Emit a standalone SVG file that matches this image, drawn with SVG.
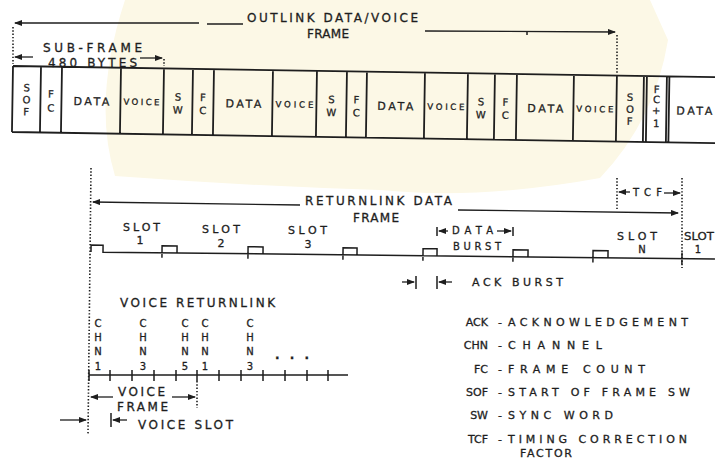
<svg xmlns="http://www.w3.org/2000/svg" width="715" height="463" viewBox="0 0 715 463">
<defs>
<marker id="ah" markerUnits="userSpaceOnUse" markerWidth="8" markerHeight="6" refX="7" refY="3" orient="auto"><path d="M0,0 L8,3 L0,6 z" fill="#1e1e1e"/></marker>
<style>
text{font-family:"DejaVu Sans","Liberation Sans",sans-serif;fill:#1e1e1e;stroke:#1e1e1e;stroke-width:0.3;}
.t12{font-size:12px;}
.t11{font-size:11px;}
.t10{font-size:10px;}
.t9{font-size:8.5px;}
.c{text-anchor:middle;}
.e{text-anchor:end;}
.ln{stroke:#1e1e1e;stroke-width:1.5;fill:none;}
.box{stroke:#1e1e1e;stroke-width:1.8;fill:none;}
.ar{stroke:#1e1e1e;stroke-width:1.3;fill:none;marker-end:url(#ah);}
.dot{stroke:#1e1e1e;stroke-width:1.6;fill:none;stroke-dasharray:1.4 1.9;}
</style>
</defs>
<rect width="715" height="463" fill="#ffffff"/>
<path d="M125,0 H650 L668,40 Q655,120 600,178 Q480,200 380,190 Q250,186 115,176 Q92,100 125,0 Z" fill="#fcf8e6"/>

<g id="outlink-frame" transform="rotate(0.9 13 66)">
<path class="box" d="M13,66 H720 M13,132 H720 M13,66 V132 M41,66 V132 M62,66 V132 M121,66 V132 M164,66 V132 M193,66 V132 M214,66 V132 M273,66 V132 M317,66 V132 M347,66 V132 M367,66 V132 M425,66 V132 M468,66 V132 M495,66 V132 M517,66 V132 M574,66 V132 M617,66 V132 M644,66 V132 M647,66 V132 M667,66 V132 M669.5,66 V132"/>
<g class="t10 c">
<text x="27" y="91">S</text><text x="27" y="103">O</text><text x="27" y="115">F</text>
<text x="51.5" y="97">F</text><text x="51.5" y="111">C</text>
<text x="178.5" y="98">S</text><text x="178.5" y="111">W</text>
<text x="203.5" y="98">F</text><text x="203.5" y="111">C</text>
<text x="332" y="98">S</text><text x="332" y="111">W</text>
<text x="357" y="98">F</text><text x="357" y="111">C</text>
<text x="481.5" y="98">S</text><text x="481.5" y="111">W</text>
<text x="506" y="98">F</text><text x="506" y="111">C</text>
<text x="630.5" y="91">S</text><text x="630.5" y="103">O</text><text x="630.5" y="115">F</text>
<text x="657" y="83">F</text><text x="657" y="93">C</text><text x="657" y="104">+</text><text x="657" y="117">1</text>
</g>
<g class="t11">
<text x="74" y="104" textLength="36" lengthAdjust="spacing">DATA</text>
<text x="226" y="104" textLength="36" lengthAdjust="spacing">DATA</text>
<text x="378" y="104" textLength="36" lengthAdjust="spacing">DATA</text>
<text x="528" y="104" textLength="36" lengthAdjust="spacing">DATA</text>
<text x="677" y="104" textLength="36" lengthAdjust="spacing">DATA</text>
</g>
<g class="t9">
<text x="124" y="103" textLength="36" lengthAdjust="spacing">VOICE</text>
<text x="276" y="103" textLength="38" lengthAdjust="spacing">VOICE</text>
<text x="428" y="103" textLength="37" lengthAdjust="spacing">VOICE</text>
<text x="577" y="103" textLength="37" lengthAdjust="spacing">VOICE</text>
</g>
</g>

<g id="connectors">
<path class="ar" d="M199,23 L15,23"/>
<path class="ln" d="M207,24 H243"/>
<path class="ar" d="M425,31 L615,32"/>
<path class="ln" d="M527,32 V35"/>
<path class="dot" d="M13,27 V64"/>
<path class="dot" d="M617,35 V74"/>
<path class="ar" d="M33,57 L15,57"/>
<path class="ar" d="M140,58 L162,58"/>
<path class="dot" d="M164,59 V66"/>

<path class="dot" d="M91,168 L88,434"/>
<path class="ar" d="M300,205 L93,202"/>
<path class="ar" d="M458,210 L678,213"/>
<path class="dot" d="M617,178 V209"/>
<path class="dot" d="M682,178 V268"/>
<path class="ar" d="M630,192 L619,192"/>
<path class="ar" d="M664,193 L680,193"/>

<path class="ln" d="M437,227 V236 M513,227 V236"/>
<path class="ar" d="M448,231 L439,231"/>
<path class="ar" d="M497,231 L511,231"/>
<path class="ar" d="M402,282 L414,282"/>
<path class="ln" d="M416,276 V289 M437,276 V289"/>
<path class="ar" d="M452,282 L439,282"/>

<path class="ln" d="M89,375 H348 M89,370 V381 M110,370 V381 M132,370 V381 M154,370 V381 M176,370 V381 M197,370 V381 M219,370 V381 M241,370 V381 M263,370 V381 M285,370 V381 M307,370 V381 M328,370 V381"/>
<path class="dot" d="M197,381 V408"/>
<path class="ar" d="M113,397 L91,397"/>
<path class="ar" d="M172,397 L195,397"/>
<path class="ar" d="M60,420 L86,420"/>
<path class="ln" d="M111,413 V427"/>
<path class="ar" d="M127,420 L113,420"/>
</g>

<g id="returnlink-timeline" transform="rotate(0.64 91 252)">
<path class="ln" d="M91,252 V245 H103 V252 H715 M162,257 V245 H177 V252 M248,257 V245 H263 V252 M343,257 V245 H357 V252 M423,257 V245 H437 V252 M513,257 V245 H528 V252 M593,257 V245 H608 V252 M682,246 V258"/>
</g>

<g id="labels-top">
<text class="t12" x="247" y="22" textLength="171" lengthAdjust="spacing">OUTLINK DATA/VOICE</text>
<text class="t12" x="307" y="38" textLength="42" lengthAdjust="spacing">FRAME</text>
<text class="t12" x="43" y="52" textLength="99" lengthAdjust="spacing">SUB-FRAME</text>
<text class="t12" x="48" y="67" textLength="89" lengthAdjust="spacing">480 BYTES</text>
</g>

<g id="labels-returnlink">
<text class="t12" x="305" y="205" textLength="147" lengthAdjust="spacing">RETURNLINK DATA</text>
<text class="t12" x="353" y="222" textLength="46" lengthAdjust="spacing">FRAME</text>
<text class="t10" x="633" y="196" textLength="29" lengthAdjust="spacing">TCF</text>
<text class="t11" x="123" y="231" textLength="37" lengthAdjust="spacing">SLOT</text>
<text class="t11 c" x="140" y="244">1</text>
<text class="t11" x="202" y="233" textLength="38" lengthAdjust="spacing">SLOT</text>
<text class="t11 c" x="221" y="247">2</text>
<text class="t11" x="288" y="234" textLength="39" lengthAdjust="spacing">SLOT</text>
<text class="t11 c" x="308" y="248">3</text>
<text class="t11" x="617" y="240" textLength="40" lengthAdjust="spacing">SLOT</text>
<text class="t10 c" x="642" y="253">N</text>
<text class="t11" x="684" y="240" textLength="30" lengthAdjust="spacingAndGlyphs">SLOT</text>
<text class="t10 c" x="698" y="253">1</text>
<text class="t10" x="452" y="234" textLength="41" lengthAdjust="spacing">DATA</text>
<text class="t10" x="453" y="250" textLength="48" lengthAdjust="spacing">BURST</text>
<text class="t11" x="472" y="286" textLength="91" lengthAdjust="spacing">ACK BURST</text>
</g>

<g id="voice-returnlink">
<text class="t12" x="120" y="307" textLength="155" lengthAdjust="spacing">VOICE RETURNLINK</text>
<g class="t10 c">
<text x="98" y="327">C</text><text x="98" y="341">H</text><text x="98" y="355">N</text><text x="98" y="370">1</text>
<text x="143" y="327">C</text><text x="143" y="341">H</text><text x="143" y="355">N</text><text x="143" y="370">3</text>
<text x="185" y="327">C</text><text x="185" y="341">H</text><text x="185" y="355">N</text><text x="185" y="370">5</text>
<text x="205" y="327">C</text><text x="205" y="341">H</text><text x="205" y="355">N</text><text x="205" y="370">1</text>
<text x="250" y="327">C</text><text x="250" y="341">H</text><text x="250" y="355">N</text><text x="250" y="370">3</text>
</g>
<text class="t12" x="275" y="359" textLength="34" lengthAdjust="spacing" font-weight="bold">. . .</text>
<text class="t12" x="118" y="396" textLength="47" lengthAdjust="spacing">VOICE</text>
<text class="t12" x="117" y="411" textLength="51" lengthAdjust="spacing">FRAME</text>
<text class="t12" x="138" y="429" textLength="95" lengthAdjust="spacing">VOICE SLOT</text>
</g>

<g id="legend" class="t11">
<text class="e" x="488" y="326">ACK</text><text class="c" x="500" y="326">-</text><text x="508" y="326" textLength="180" lengthAdjust="spacing">ACKNOWLEDGEMENT</text>
<text class="e" x="488" y="349">CHN</text><text class="c" x="500" y="349">-</text><text x="508" y="349" textLength="94" lengthAdjust="spacing">CHANNEL</text>
<text class="e" x="488" y="373">FC</text><text class="c" x="500" y="373">-</text><text x="508" y="373" textLength="137" lengthAdjust="spacing">FRAME COUNT</text>
<text class="e" x="488" y="396">SOF</text><text class="c" x="500" y="396">-</text><text x="508" y="396" textLength="182" lengthAdjust="spacing">START OF FRAME SW</text>
<text class="e" x="488" y="419">SW</text><text class="c" x="500" y="419">-</text><text x="508" y="419" textLength="105" lengthAdjust="spacing">SYNC WORD</text>
<text class="e" x="488" y="443">TCF</text><text class="c" x="500" y="443">-</text><text x="508" y="443" textLength="179" lengthAdjust="spacing">TIMING CORRECTION</text>
<text x="520" y="457" textLength="52" lengthAdjust="spacing">FACTOR</text>
</g>
</svg>
